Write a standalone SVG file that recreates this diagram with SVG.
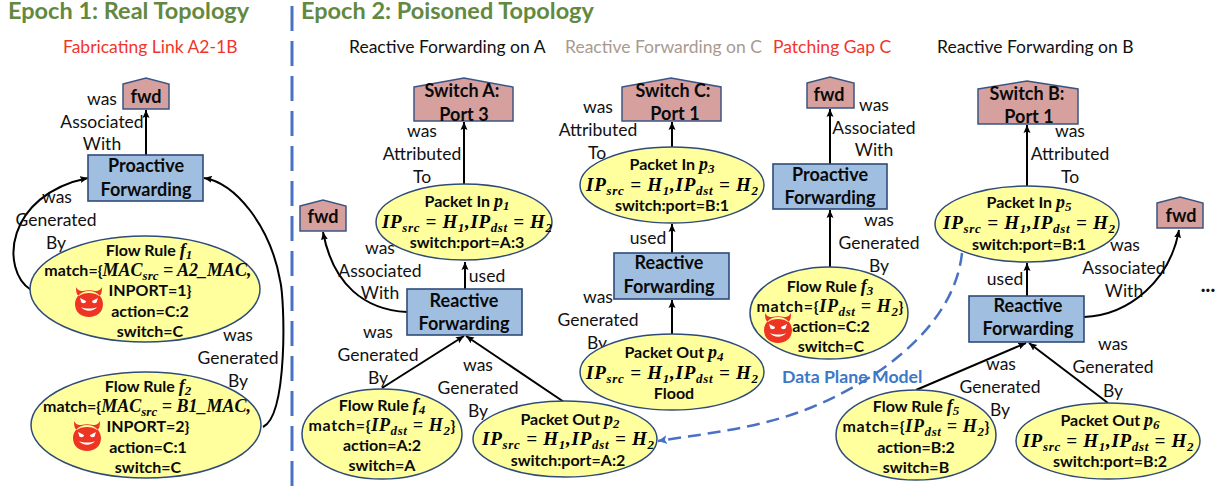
<svg xmlns="http://www.w3.org/2000/svg" width="1225" height="487" viewBox="0 0 1225 487">
<style>
text{font-family:Lato,"Liberation Sans",sans-serif;text-anchor:middle}
.h{font-size:23.5px;font-weight:700;fill:#62893f;text-anchor:start}
.t{font-size:17.500px;text-anchor:start}
.red{fill:#f2352c}
.l{font-size:17.500px;fill:#111}
.b{font-size:18px;font-weight:700;fill:#0a0a0a}
.n{font-size:16px;font-weight:700;fill:#0a0a0a}
.m{font-family:"Liberation Serif",serif;font-style:italic;font-weight:700}
.s{font-size:13px}
.e{fill:#ffff9e;stroke:#2f4b78;stroke-width:1.5}
.r{fill:#a0bfe0;stroke:#2f4b78;stroke-width:1.6}
.p{fill:#d5a09e;stroke:#3a5583;stroke-width:1.5}
.c{fill:none;stroke:#000;stroke-width:2;marker-end:url(#a)}
</style>
<defs>
<marker id="a" markerUnits="userSpaceOnUse" markerWidth="10" markerHeight="10" refX="8" refY="4" orient="auto"><path d="M0,0.5 L8,4 L0,7.500 L1.500,4Z" fill="#000"/></marker>
<marker id="d" markerUnits="userSpaceOnUse" markerWidth="12" markerHeight="12" refX="9" refY="5" orient="auto"><path d="M0,0.5 L9,5 L0,9.500 L2,5Z" fill="#4a72c4"/></marker>
<g id="devil"><path d="M-13,-15 C-13,-9 -12,-7 -10,-6 C-6,-10 6,-10 10,-6 C12,-7 13,-9 13,-15 C11,-11 8,-11 6,-11 C2,-12 -2,-12 -6,-11 C-8,-11 -11,-11 -13,-15Z M0,-11 C8,-11 14,-5 14,2 C14,10 8,15 0,15 C-8,15 -14,10 -14,2 C-14,-5 -8,-11 0,-11Z" fill="#ee3524"/><path d="M-9,-4 L-3,-1 C-3,2 -8,2 -8,-1Z M9,-4 L3,-1 C3,2 8,2 8,-1Z M-8,5 C-4,10 4,10 8,5 C4,7 -4,7 -8,5Z" fill="#fff"/></g>
</defs>

<g id="titles">
<text class="h" x="8" y="19">Epoch 1: Real Topology</text>
<text class="h" x="301" y="19">Epoch 2: Poisoned Topology</text>
<text class="t red" x="63" y="53">Fabricating Link A2-1B</text>
<text class="t" x="349" y="53" fill="#111">Reactive Forwarding on A</text>
<text class="t" x="565" y="53" fill="#a89a90">Reactive Forwarding on C</text>
<text class="t red" x="773" y="53">Patching Gap C</text>
<text class="t" x="937" y="53" fill="#111">Reactive Forwarding on B</text>
</g>
<path id="divider" d="M292,6V487" fill="none" stroke="#4a72c4" stroke-width="3" stroke-dasharray="25,10"/>

<g id="connectors">
<path class="c" d="M146,155V110"/>
<path class="c" d="M31,290C0,270 5,195 88,178"/>
<path class="c" d="M263,427C288,415 285,300 280,280C270,225 235,183 204,178"/>
<path class="c" d="M464,184V122"/>
<path class="c" d="M465,289V262"/>
<path class="c" d="M407,312C365,310 333,285 323,232"/>
<path class="c" d="M382,388L464,336"/>
<path class="c" d="M564,402L466,336"/>
<path class="c" d="M672,147V122"/>
<path class="c" d="M672,253V224"/>
<path class="c" d="M672,334V300"/>
<path class="c" d="M830,164V109"/>
<path class="c" d="M830,267V210"/>
<path class="c" d="M1027,186V125"/>
<path class="c" d="M1027,296V263"/>
<path class="c" d="M1084,317C1130,315 1170,280 1179,230"/>
<path class="c" d="M916,390L1026,343"/>
<path class="c" d="M1108,403L1029,343"/>
<path d="M962,253C955,320 890,375 810,408C760,428 710,433 658,441" fill="none" stroke="#4a72c4" stroke-width="2.500" stroke-dasharray="13,7" marker-end="url(#d)"/>
<g class="labels">
<text class="l" x="102" y="105">was</text><text class="l" x="102" y="128">Associated</text><text class="l" x="102" y="150">With</text>
<text class="l" x="57" y="203">was</text><text class="l" x="56" y="226">Generated</text><text class="l" x="56" y="249">By</text>
<text class="l" x="238" y="341">was</text><text class="l" x="238" y="364">Generated</text><text class="l" x="238" y="387">By</text>
<text class="l" x="422" y="137">was</text><text class="l" x="422" y="160">Attributed</text><text class="l" x="422" y="183">To</text>
<text class="l" x="380" y="254">was</text><text class="l" x="380" y="277">Associated</text><text class="l" x="380" y="299">With</text>
<text class="l" x="487" y="282">used</text>
<text class="l" x="378" y="338">was</text><text class="l" x="378" y="361">Generated</text><text class="l" x="378" y="384">By</text>
<text class="l" x="478" y="371">was</text><text class="l" x="478" y="394">Generated</text><text class="l" x="478" y="417">By</text>
<text class="l" x="598" y="113">was</text><text class="l" x="598" y="136">Attributed</text><text class="l" x="597" y="159">To</text>
<text class="l" x="648" y="244">used</text>
<text class="l" x="598" y="303">was</text><text class="l" x="598" y="326">Generated</text><text class="l" x="597" y="349">By</text>
<text class="l" x="874" y="111">was</text><text class="l" x="874" y="134">Associated</text><text class="l" x="874" y="156">With</text>
<text class="l" x="879" y="226">was</text><text class="l" x="879" y="249">Generated</text><text class="l" x="879" y="272">By</text>
<text class="l" x="1070" y="137">was</text><text class="l" x="1070" y="160">Attributed</text><text class="l" x="1070" y="183">To</text>
<text class="l" x="1125" y="251">was</text><text class="l" x="1124" y="274">Associated</text><text class="l" x="1124" y="297">With</text>
<text class="l" x="1005" y="285">used</text>
<text class="l" x="1001" y="370">was</text><text class="l" x="1000" y="393">Generated</text><text class="l" x="1000" y="416">By</text>
<text class="l" x="1113" y="350">was</text><text class="l" x="1113" y="373">Generated</text><text class="l" x="1113" y="397">By</text>
<text x="782" y="383" font-size="17.700" font-weight="700" fill="#3c78c8" style="text-anchor:start">Data Plane Model</text>
<text x="1208" y="292" font-size="20" font-weight="900" fill="#111">...</text>
</g>
</g>

<g id="fwd1"><path class="p" d="M123,84L146,78L169,84V109H123Z"/><text class="b" x="146" y="103">fwd</text></g>
<g id="proactive1"><rect class="r" x="88" y="155" width="115" height="46"/><text class="b" x="146" y="172">Proactive</text><text class="b" x="146" y="196">Forwarding</text></g>
<g id="f1"><ellipse class="e" cx="145" cy="289" rx="115" ry="53"/>
<text class="n" x="149" y="256">Flow Rule <tspan class="m" font-size="18">f</tspan><tspan class="m s" dy="3">1</tspan></text>
<text class="n" x="148" y="276">match={<tspan class="m" font-size="18">MAC<tspan class="s" dy="4">src</tspan><tspan dy="-4"> = A2_MAC,</tspan></tspan></text>
<text class="n" x="150" y="296">INPORT=1}</text><text class="n" x="150" y="317">action=C:2</text><text class="n" x="150" y="337">switch=C</text>
<use href="#devil" x="89" y="302"/></g>
<g id="f2"><ellipse class="e" cx="146" cy="425" rx="115" ry="53"/>
<text class="n" x="148" y="392">Flow Rule <tspan class="m" font-size="18">f</tspan><tspan class="m s" dy="3">2</tspan></text>
<text class="n" x="147" y="412">match={<tspan class="m" font-size="18">MAC<tspan class="s" dy="4">src</tspan><tspan dy="-4"> = B1_MAC,</tspan></tspan></text>
<text class="n" x="148" y="432">INPORT=2}</text><text class="n" x="148" y="453">action=C:1</text><text class="n" x="148" y="473">switch=C</text>
<use href="#devil" x="87" y="436"/></g>

<g id="switchA"><path class="p" d="M414,87L464,78L513,87V121H414Z"/><text class="b" x="462" y="97">Switch A:</text><text class="b" x="464" y="121">Port 3</text></g>
<g id="p1"><ellipse class="e" cx="464" cy="222" rx="88" ry="38"/>
<text class="n" x="467" y="207">Packet In <tspan class="m" font-size="18">p</tspan><tspan class="m s" dy="3">1</tspan></text>
<text class="m" font-size="19" x="467" y="228" textLength="170">IP<tspan class="s" dy="4">src</tspan><tspan dy="-4"> = H</tspan><tspan class="s" dy="4">1</tspan><tspan dy="-4">,IP</tspan><tspan class="s" dy="4">dst</tspan><tspan dy="-4"> = H</tspan><tspan class="s" dy="4">2</tspan></text>
<text class="n" x="467" y="248">switch:port=A:3</text></g>
<g id="fwd2"><path class="p" d="M300,206L323,200L346,206V231H300Z"/><text class="b" x="323" y="223">fwd</text></g>
<g id="reactiveA"><rect class="r" x="407" y="289" width="115" height="46"/><text class="b" x="464" y="307">Reactive</text><text class="b" x="464" y="330">Forwarding</text></g>
<g id="f4"><ellipse class="e" cx="382" cy="434" rx="80" ry="45"/>
<text class="n" x="382" y="411">Flow Rule <tspan class="m" font-size="18">f</tspan><tspan class="m s" dy="3">4</tspan></text>
<text class="n" x="382" y="431" textLength="147">match={<tspan class="m" font-size="18">IP<tspan class="s" dy="4">dst</tspan><tspan dy="-4"> = H</tspan><tspan class="s" dy="4">2</tspan></tspan><tspan dy="-4">}</tspan></text>
<text class="n" x="382" y="451">action=A:2</text><text class="n" x="382" y="471">switch=A</text></g>
<g id="p2"><ellipse class="e" cx="565" cy="439" rx="92" ry="38"/>
<text class="n" x="570" y="425">Packet Out <tspan class="m" font-size="18">p</tspan><tspan class="m s" dy="3">2</tspan></text>
<text class="m" font-size="19" x="568" y="445" textLength="172">IP<tspan class="s" dy="4">src</tspan><tspan dy="-4"> = H</tspan><tspan class="s" dy="4">1</tspan><tspan dy="-4">,IP</tspan><tspan class="s" dy="4">dst</tspan><tspan dy="-4"> = H</tspan><tspan class="s" dy="4">2</tspan></text>
<text class="n" x="568" y="466">switch:port=A:2</text></g>

<g id="switchC"><path class="p" d="M622,87L671,78L721,87V121H622Z"/><text class="b" x="673" y="97">Switch C:</text><text class="b" x="675" y="120">Port 1</text></g>
<g id="p3"><ellipse class="e" cx="672" cy="185" rx="92" ry="38"/>
<text class="n" x="672" y="170">Packet In <tspan class="m" font-size="18">p</tspan><tspan class="m s" dy="3">3</tspan></text>
<text class="m" font-size="19" x="672" y="191" textLength="172">IP<tspan class="s" dy="4">src</tspan><tspan dy="-4"> = H</tspan><tspan class="s" dy="4">1</tspan><tspan dy="-4">,IP</tspan><tspan class="s" dy="4">dst</tspan><tspan dy="-4"> = H</tspan><tspan class="s" dy="4">2</tspan></text>
<text class="n" x="672" y="211">switch:port=B:1</text></g>
<g id="reactiveC"><rect class="r" x="614" y="253" width="115" height="46"/><text class="b" x="669" y="269">Reactive</text><text class="b" x="669" y="293">Forwarding</text></g>
<g id="p4"><ellipse class="e" cx="672" cy="372" rx="92" ry="38"/>
<text class="n" x="674" y="358">Packet Out <tspan class="m" font-size="18">p</tspan><tspan class="m s" dy="3">4</tspan></text>
<text class="m" font-size="19" x="672" y="379" textLength="172">IP<tspan class="s" dy="4">src</tspan><tspan dy="-4"> = H</tspan><tspan class="s" dy="4">1</tspan><tspan dy="-4">,IP</tspan><tspan class="s" dy="4">dst</tspan><tspan dy="-4"> = H</tspan><tspan class="s" dy="4">2</tspan></text>
<text class="n" x="674" y="399">Flood</text></g>

<g id="fwd3"><path class="p" d="M807,83L830,77L854,83V108H807Z"/><text class="b" x="829" y="101">fwd</text></g>
<g id="proactive2"><rect class="r" x="773" y="164" width="114" height="45"/><text class="b" x="830" y="181">Proactive</text><text class="b" x="830" y="204">Forwarding</text></g>
<g id="f3"><ellipse class="e" cx="829" cy="313" rx="79" ry="46"/>
<text class="n" x="830" y="292">Flow Rule <tspan class="m" font-size="18">f</tspan><tspan class="m s" dy="3">3</tspan></text>
<text class="n" x="830" y="312" textLength="147">match={<tspan class="m" font-size="18">IP<tspan class="s" dy="4">dst</tspan><tspan dy="-4"> = H</tspan><tspan class="s" dy="4">2</tspan></tspan><tspan dy="-4">}</tspan></text>
<text class="n" x="831" y="332">action=C:2</text><text class="n" x="831" y="352">switch=C</text>
<use href="#devil" x="778" y="328"/></g>

<g id="switchB"><path class="p" d="M978,89L1027,81L1078,89V124H978Z"/><text class="b" x="1027" y="100">Switch B:</text><text class="b" x="1029" y="123">Port 1</text></g>
<g id="p5"><ellipse class="e" cx="1027" cy="224" rx="92" ry="38"/>
<text class="n" x="1029" y="208">Packet In <tspan class="m" font-size="18">p</tspan><tspan class="m s" dy="3">5</tspan></text>
<text class="m" font-size="19" x="1029" y="229" textLength="172">IP<tspan class="s" dy="4">src</tspan><tspan dy="-4"> = H</tspan><tspan class="s" dy="4">1</tspan><tspan dy="-4">,IP</tspan><tspan class="s" dy="4">dst</tspan><tspan dy="-4"> = H</tspan><tspan class="s" dy="4">2</tspan></text>
<text class="n" x="1029" y="250">switch:port=B:1</text></g>
<g id="fwd4"><path class="p" d="M1157,203L1180,197L1203,203V228H1157Z"/><text class="b" x="1181" y="222">fwd</text></g>
<g id="reactiveB"><rect class="r" x="969" y="296" width="115" height="46"/><text class="b" x="1028" y="312">Reactive</text><text class="b" x="1028" y="335">Forwarding</text></g>
<g id="f5"><ellipse class="e" cx="916" cy="435" rx="80" ry="45"/>
<text class="n" x="916" y="412">Flow Rule <tspan class="m" font-size="18">f</tspan><tspan class="m s" dy="3">5</tspan></text>
<text class="n" x="916" y="432" textLength="147">match={<tspan class="m" font-size="18">IP<tspan class="s" dy="4">dst</tspan><tspan dy="-4"> = H</tspan><tspan class="s" dy="4">2</tspan></tspan><tspan dy="-4">}</tspan></text>
<text class="n" x="916" y="453">action=B:2</text><text class="n" x="916" y="473">switch=B</text></g>
<g id="p6"><ellipse class="e" cx="1108" cy="441" rx="92" ry="38"/>
<text class="n" x="1110" y="426">Packet Out <tspan class="m" font-size="18">p</tspan><tspan class="m s" dy="3">6</tspan></text>
<text class="m" font-size="19" x="1108" y="447" textLength="171">IP<tspan class="s" dy="4">src</tspan><tspan dy="-4"> = H</tspan><tspan class="s" dy="4">1</tspan><tspan dy="-4">,IP</tspan><tspan class="s" dy="4">dst</tspan><tspan dy="-4"> = H</tspan><tspan class="s" dy="4">2</tspan></text>
<text class="n" x="1110" y="467">switch:port=B:2</text></g>
</svg>
